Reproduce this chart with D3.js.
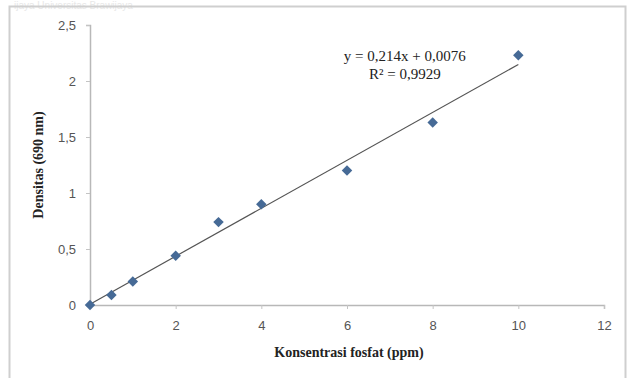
<!DOCTYPE html>
<html>
<head>
<meta charset="utf-8">
<script src="https://cdn.jsdelivr.net/npm/d3@7"></script>
<style>
  body { margin: 0; background: #fff; }
  svg { display: block; }
</style>
</head>
<body>
<div id="chart"></div>
<script>
// data
const konsentrasi = [0, 0.5, 1, 2, 3, 4, 6, 8, 10];
const densitas = [0, 0.09, 0.21, 0.44, 0.74, 0.9, 1.2, 1.63, 2.23];
const xTicks = [0, 2, 4, 6, 8, 10, 12];
const yTicks = [0, 0.5, 1, 1.5, 2, 2.5];
const slope = 0.214, intercept = 0.0076;
const eqLines = ["y = 0,214x + 0,0076", "R\u00b2 = 0,9929"];

const W = 627, H = 378;
const margin = { top: 25, right: 23, bottom: 73, left: 90 };
const width = W - margin.left - margin.right;
const height = H - margin.top - margin.bottom;

const svg = d3.select("#chart").append("svg")
  .attr("width", W).attr("height", H);

// watermark + outer frame
svg.append("text")
  .attr("x", 14).attr("y", 9)
  .attr("font-family", "Liberation Sans, Arial, sans-serif")
  .attr("font-size", 10).attr("fill", "#e8e8e8")
  .text("ijaya    Universitas Brawijaya");
svg.append("path")
  .attr("d", `M9.5,${H} V6.5 H${W - 1.5} V${H}`)
  .attr("fill", "none").attr("stroke", "#cfcfcf").attr("stroke-width", 2);

const g = svg.append("g").attr("transform", `translate(${margin.left},${margin.top})`);

const x = d3.scaleLinear().domain([0, 12]).range([0, width]);
const y = d3.scaleLinear().domain([0, 2.5]).range([height, 0]);
const fmt = d => String(d).replace(".", ",");

const xAxis = g.append("g")
  .attr("transform", `translate(0,${height})`)
  .call(d3.axisBottom(x).tickValues(xTicks).tickFormat(fmt).tickSize(4).tickPadding(12));
const yAxis = g.append("g")
  .call(d3.axisLeft(y).tickValues(yTicks).tickFormat(fmt).tickSize(4).tickPadding(10));

[xAxis, yAxis].forEach(a => {
  a.select(".domain").attr("stroke", "#b8b8b8").attr("stroke-width", 1.5);
  a.selectAll(".tick line").attr("stroke", "#c4c4c4");
  a.selectAll(".tick text")
    .attr("fill", "#555").attr("font-size", 13)
    .attr("font-family", "Liberation Sans, Arial, sans-serif");
});

// trend line
const line = d3.line().x(d => x(d)).y(d => y(slope * d + intercept));
g.append("path")
  .datum([0, 10])
  .attr("d", line)
  .attr("fill", "none").attr("stroke", "#555").attr("stroke-width", 1.2);

// diamonds
g.selectAll(".pt")
  .data(konsentrasi.map((k, i) => [k, densitas[i]]))
  .join("path")
  .attr("class", "pt")
  .attr("transform", d => `translate(${x(d[0])},${y(d[1])})`)
  .attr("d", d3.symbol().type(d3.symbolDiamond2).size(70))
  .attr("fill", "#466a96");

// equation
g.selectAll(".eq")
  .data(eqLines)
  .join("text")
  .attr("class", "eq")
  .attr("x", x(7.35)).attr("y", (d, i) => 36 + i * 18)
  .attr("text-anchor", "middle")
  .attr("font-family", "Liberation Serif, Times New Roman, serif")
  .attr("font-size", 15).attr("fill", "#222")
  .text(d => d);

// axis titles
svg.append("text")
  .attr("x", 349).attr("y", 357)
  .attr("text-anchor", "middle")
  .attr("font-family", "Liberation Serif, Times New Roman, serif")
  .attr("font-weight", "bold").attr("font-size", 14).attr("fill", "#222")
  .text("Konsentrasi fosfat (ppm)");
svg.append("text")
  .attr("transform", `translate(43,${margin.top + height / 2}) rotate(-90)`)
  .attr("text-anchor", "middle")
  .attr("font-family", "Liberation Serif, Times New Roman, serif")
  .attr("font-weight", "bold").attr("font-size", 14).attr("fill", "#222")
  .text("Densitas (690 nm)");
</script>
</body>
</html>
